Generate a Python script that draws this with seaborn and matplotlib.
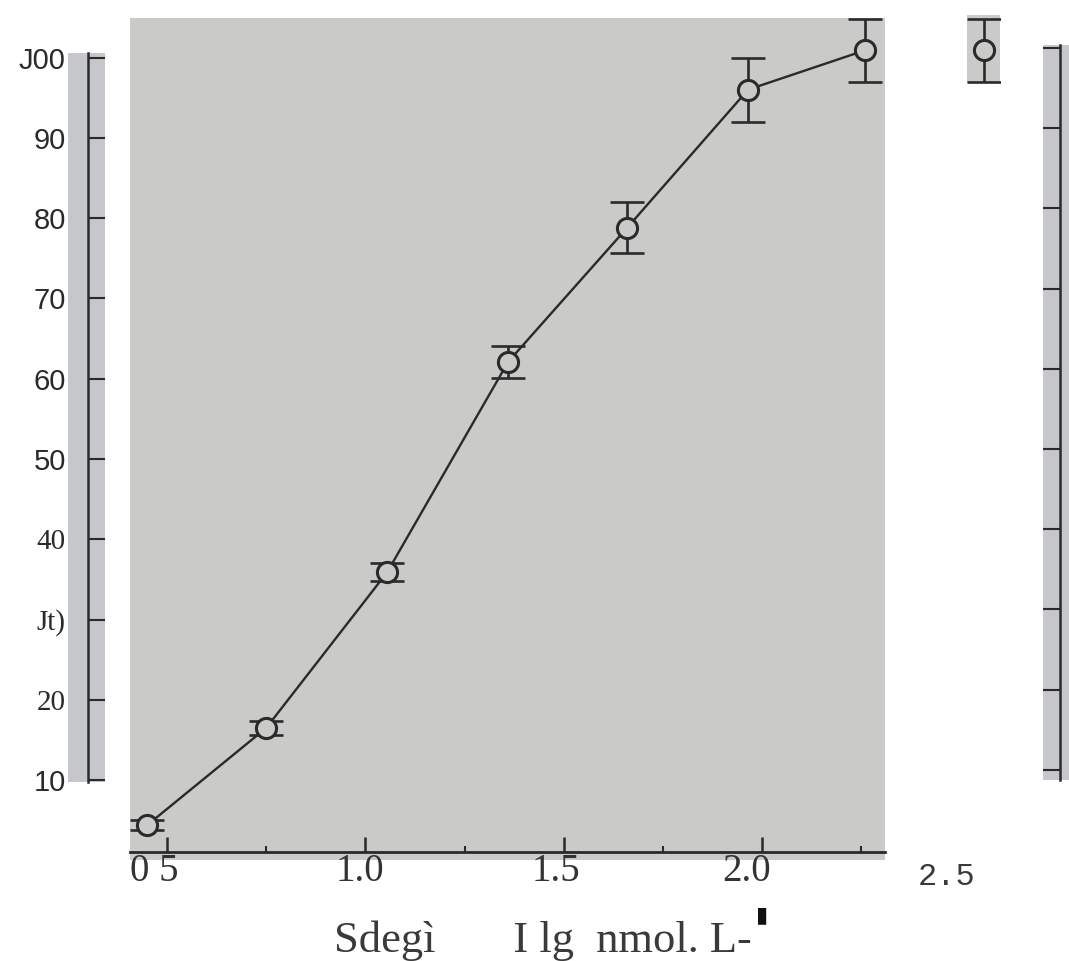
"""
扫描版剂量-反应曲线复原
"""
import matplotlib
matplotlib.use('Agg')
import matplotlib.pyplot as plt
import matplotlib.transforms as mtransforms
import pandas as pd
import seaborn as sns

W, H = 1069, 961

# 数据
log_conc = [0.45, 0.75, 1.055, 1.36, 1.66, 1.965, 2.26]
response = [4.4, 16.5, 35.9, 62.1, 78.8, 96.0, 100.9]
err = [0.6, 0.9, 1.1, 2.0, 3.2, 4.0, 3.9]

y_ticks = [10, 20, 30, 40, 50, 60, 70, 80, 90, 100]
y_ticklabels = ['10', '20', 'Jt)', '40', '50', '60', '70', '80', '90', 'J00']
y_tickfonts = ['Liberation Sans', 'Liberation Serif', 'Liberation Serif',
               'Liberation Serif', 'Liberation Sans', 'Liberation Sans',
               'Liberation Sans', 'Liberation Sans', 'Liberation Sans',
               'Liberation Sans']
x_ticks = [0.5, 1.0, 1.5, 2.0, 2.5]
x_ticklabels = ['0 5', '1.0', '1.5', '2.0', '2.5']
x_minor = [0.75, 1.25, 1.75, 2.25]
x_label = 'Sdegì       I lg  nmol. L-'

PAPER = '#cacbc8'
STRIP = '#c5c7ca'
INK = '#2a2a2a'


def px_rect(x0, y0, x1, y1):
    """像素框 -> figure 坐标"""
    return [x0 / W, 1 - y1 / H, (x1 - x0) / W, (y1 - y0) / H]


def yval(py, y100=57.5, per=8.03):
    return 100 - (py - y100) / per


def xval(px, x05=167, per=396.7):
    return 0.5 + (px - x05) / per


sns.set_theme(style='white')
plt.rcParams['font.family'] = ['Liberation Sans', 'DejaVu Sans']

fig = plt.figure(figsize=(W / 100, H / 100), dpi=100)
fig.patch.set_facecolor('white')
df = pd.DataFrame({'x': log_conc, 'y': response, 'err': err})

# 主图
ax = fig.add_axes(px_rect(130, 18, 885, 860))
ax.set_facecolor(PAPER)
ax.errorbar(df['x'], df['y'], yerr=df['err'], fmt='none', ecolor=INK,
            elinewidth=1.9, capsize=12.5, capthick=1.9, zorder=2)
sns.lineplot(data=df, x='x', y='y', ax=ax, color=INK, lw=1.7, marker='o',
             markersize=14.5, markerfacecolor=PAPER, markeredgecolor=INK,
             markeredgewidth=2.2, zorder=3, errorbar=None)
for s in ['left', 'right', 'top']:
    ax.spines[s].set_visible(False)
ax.spines['bottom'].set_position(('data', yval(852)))
ax.spines['bottom'].set_color(INK)
ax.spines['bottom'].set_linewidth(2)
ax.set_xticks(x_ticks)
ax.set_xticks(x_minor, minor=True)
ax.tick_params(axis='x', which='major', direction='in', length=11, width=1.8,
               color=INK, bottom=True, labelbottom=False)
ax.tick_params(axis='x', which='minor', direction='in', length=4, width=1.5,
               color=INK, bottom=True)
ax.set_yticks([])
ax.set_xlabel('')
ax.set_ylabel('')
# 刻度设置会扩展范围，最后再固定
ax.set_xlim(xval(130), xval(885))
ax.set_ylim(yval(860), yval(18))

# x 刻度标签（扫描件中略有偏移）
label_dx = [-13, -5, -8, -15, -14]
for val, text, dx in zip(x_ticks, x_ticklabels, label_dx):
    mono = text == '2.5'
    tr = mtransforms.offset_copy(ax.transData, fig=fig, x=dx,
                                 y=-33 if mono else -29, units='dots')
    ax.text(val, yval(852), text, transform=tr, ha='center', va='baseline',
            clip_on=False, color='#3a3a3a' if mono else '#333333',
            family='Liberation Mono' if mono else 'Liberation Serif',
            fontsize=23 if mono else 28)

# 左侧纵轴条
axl = fig.add_axes(px_rect(68, 53, 105, 782))
axl.set_facecolor(STRIP)
axl.set_xlim(0, 1)
axl.set_xticks([])
for s in ['right', 'top', 'bottom']:
    axl.spines[s].set_visible(False)
axl.spines['left'].set_position(('axes', 20 / 37))
axl.spines['left'].set_color(INK)
axl.spines['left'].set_linewidth(1.8)
axl.set_yticks(y_ticks, y_ticklabels)
axl.set_ylim(yval(782), yval(53))
axl.tick_params(axis='y', direction='in', length=12, width=1.5, color=INK,
                left=True, pad=16, labelsize=21, labelcolor='#2a2a2a')
for lab, fam in zip(axl.get_yticklabels(), y_tickfonts):
    lab.set_fontfamily(fam)

# 右侧纵轴条
axr = fig.add_axes(px_rect(1043, 45, 1069, 780))
axr.set_facecolor(STRIP)
axr.set_xlim(0, 1)
axr.set_xticks([])
for s in ['left', 'top', 'bottom']:
    axr.spines[s].set_visible(False)
axr.spines['right'].set_position(('axes', 17 / 26))
axr.spines['right'].set_color(INK)
axr.spines['right'].set_linewidth(1.8)
axr.set_yticks(y_ticks)
axr.set_ylim(yval(780, 48, 8.02), yval(45, 48, 8.02))
axr.tick_params(axis='y', direction='in', length=12, width=1.5, color=INK,
                left=False, right=True, labelleft=False, labelright=False)

# 右上角残留的小块（最后一点）
last = df.tail(1)
axs = fig.add_axes(px_rect(967, 15, 1000, 83))
axs.set_facecolor(PAPER)
axs.errorbar(last['x'], last['y'], yerr=last['err'], fmt='none', ecolor=INK,
             elinewidth=1.9, capsize=12.5, capthick=1.9, zorder=2)
sns.scatterplot(data=last, x='x', y='y', ax=axs, marker='o', s=210,
                color=PAPER, edgecolor=INK, linewidth=2.2, zorder=3)
axs.set_xticks([])
axs.set_yticks([])
axs.set_xlabel('')
axs.set_ylabel('')
axs.set_xlim(log_conc[-1] - 0.042, log_conc[-1] + 0.042)
axs.set_ylim(yval(83), yval(15))
for s in axs.spines.values():
    s.set_visible(False)

# 横轴标题，末尾的黑色竖块贴在右上方
xl = fig.text(334 / W, 1 - 952 / H, x_label, ha='left', va='baseline',
              family='Liberation Serif', fontsize=32, color='#3a3a3a')
ax.annotate('▮', xy=(1, 1), xycoords=xl, xytext=(3, 11),
            textcoords='offset points', ha='left', va='top',
            family='DejaVu Sans', fontsize=16, color='#111111',
            annotation_clip=False)

fig.savefig('out.png', dpi=100)
plt.close(fig)
